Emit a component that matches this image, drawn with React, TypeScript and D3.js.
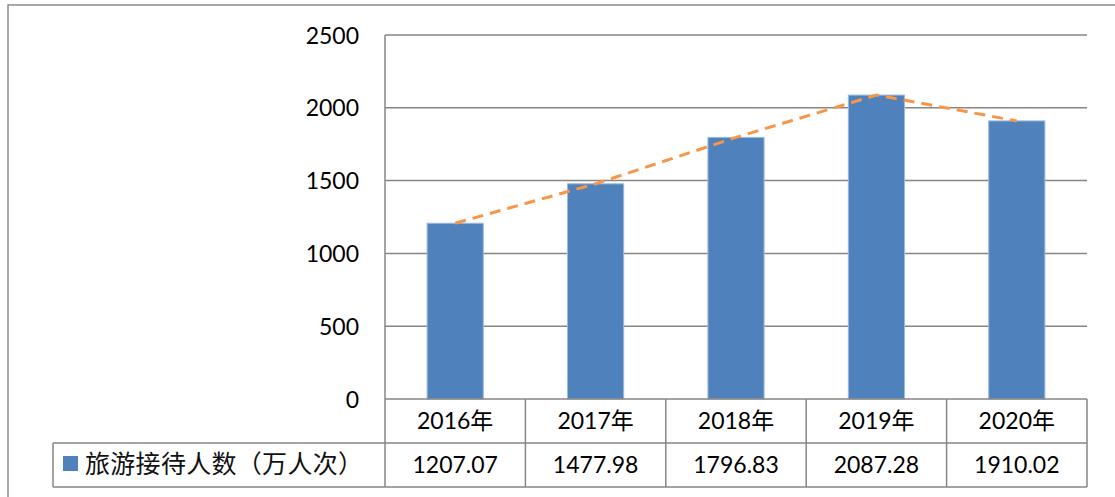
import React from "react";
import * as d3 from "d3";

const categories = ["2016年", "2017年", "2018年", "2019年", "2020年"];
const values = [1207.07, 1477.98, 1796.83, 2087.28, 1910.02];
const valueLabels = ["1207.07", "1477.98", "1796.83", "2087.28", "1910.02"];
const yTicks = [0, 500, 1000, 1500, 2000, 2500];
const seriesName = "旅游接待人数（万人次）";

const W = 1115;
const H = 497;
const FONT = "Lato, 'Noto Sans CJK SC', sans-serif";

export default function App() {
  const plotLeft = 385;
  const plotRight = 1087;
  const plotTop = 35;
  const plotBottom = 399;
  const row1Bottom = 443;
  const row2Bottom = 487;
  const tableLeft = 53;

  const x = d3.scaleBand<string>().domain(categories).range([plotLeft, plotRight]).paddingInner(0).paddingOuter(0);
  const y = d3.scaleLinear().domain([0, 2500]).range([plotBottom, plotTop]);
  const bw = x.bandwidth() * 0.4;

  const line = d3
    .line<number>()
    .x((_, i) => (x(categories[i]) as number) + x.bandwidth() / 2)
    .y((d) => y(d));

  const grid = "#868686";
  const boundaries = categories.map((c) => x(c) as number).concat([plotRight]);

  return (
    <svg
      width={W}
      height={H}
      style={{ position: "absolute", left: 0, top: 0, background: "#fff" }}
    >
      <rect x={8} y={5} width={W + 20} height={H + 20} fill="#fff" stroke="#8c8c8c" strokeWidth={1.5} />
      {/* gridlines */}
      {yTicks.filter((t) => t > 0).map((t) => (
        <line key={t} x1={plotLeft} x2={plotRight} y1={y(t)} y2={y(t)} stroke={grid} strokeWidth={1.5} />
      ))}
      {/* y tick labels */}
      {yTicks.map((t) => (
        <text key={"l" + t} x={359} y={y(t) + 8.5} textAnchor="end" fontFamily={FONT} fontSize={23} fill="#000">
          {t}
        </text>
      ))}
      {/* bars */}
      {values.map((v, i) => {
        const cx = (x(categories[i]) as number) + x.bandwidth() / 2;
        return (
          <rect
            key={i}
            x={cx - bw / 2}
            y={y(v)}
            width={bw}
            height={plotBottom - y(v)}
            fill="#4F81BD"
            stroke="#9DB9DE"
            strokeWidth={1}
          />
        );
      })}
      {/* dashed line */}
      <path d={line(values) || ""} fill="none" stroke="#F79646" strokeWidth={3} strokeDasharray="11,7" />
      {/* left axis */}
      <line x1={plotLeft} x2={plotLeft} y1={plotTop} y2={row2Bottom} stroke={grid} strokeWidth={1.5} />
      {/* table */}
      <line x1={plotLeft} x2={plotRight} y1={plotBottom} y2={plotBottom} stroke={grid} strokeWidth={1.5} />
      <line x1={tableLeft} x2={plotRight} y1={row1Bottom} y2={row1Bottom} stroke={grid} strokeWidth={1.5} />
      <line x1={tableLeft} x2={plotRight} y1={row2Bottom} y2={row2Bottom} stroke={grid} strokeWidth={1.5} />
      <line x1={tableLeft} x2={tableLeft} y1={row1Bottom} y2={row2Bottom} stroke={grid} strokeWidth={1.5} />
      {boundaries.slice(1).map((b, i) => (
        <line key={"b" + i} x1={b} x2={b} y1={plotBottom} y2={row2Bottom} stroke={grid} strokeWidth={1.5} />
      ))}
      {categories.map((c) => (
        <text
          key={"c" + c}
          x={(x(c) as number) + x.bandwidth() / 2}
          y={429}
          textAnchor="middle"
          fontFamily={FONT}
          fontSize={23}
          fill="#000"
        >
          {c}
        </text>
      ))}
      {valueLabels.map((v, i) => (
        <text
          key={"v" + i}
          x={(x(categories[i]) as number) + x.bandwidth() / 2}
          y={473}
          textAnchor="middle"
          fontFamily={FONT}
          fontSize={23}
          fill="#000"
        >
          {v}
        </text>
      ))}
      <rect x={63} y={456} width={15} height={15} fill="#4F81BD" />
      <text x={85} y={473} fontFamily="'Noto Sans CJK SC', sans-serif" fontSize={25} fill="#111" textLength={278} lengthAdjust="spacing">
        {seriesName}
      </text>
    </svg>
  );
}
